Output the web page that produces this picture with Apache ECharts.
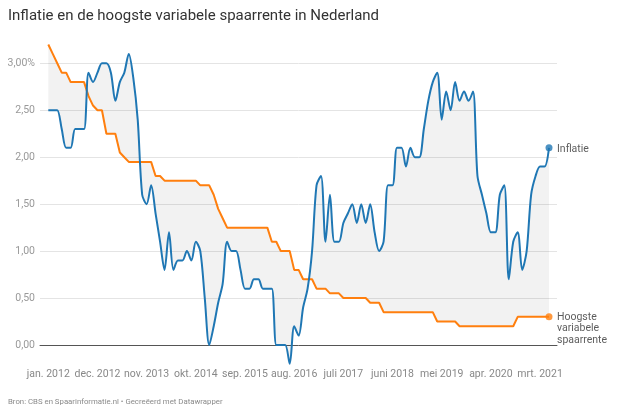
<!DOCTYPE html>
<html>
<head>
<meta charset="utf-8">
<script src="https://cdn.jsdelivr.net/npm/echarts@6/dist/echarts.min.js"></script>
<style>
html,body{margin:0;padding:0;background:#fff;}
#chart{width:619px;height:420px;}
</style>
</head>
<body>
<div id="chart"></div>
<script>
// ---- data (monthly, jan. 2012 – mei 2021) ----
var monthNames = ['jan.','feb.','mrt.','apr.','mei','juni','juli','aug.','sep.','okt.','nov.','dec.'];
var startYear = 2012;

var inflatie = [
  2.5, 2.5, 2.5, 2.3, 2.1, 2.1, 2.3, 2.3, 2.3, 2.9,
  2.8, 2.9, 3.0, 3.0, 2.9, 2.6, 2.8, 2.9, 3.1, 2.85,
  2.4, 1.6, 1.5, 1.7, 1.4, 1.1, 0.8, 1.2, 0.8, 0.9,
  0.9, 1.0, 0.9, 1.1, 1.0, 0.5, 0.0, 0.2, 0.45, 0.65,
  1.1, 1.0, 1.0, 0.8, 0.6, 0.6, 0.7, 0.7, 0.6, 0.6,
  0.6, 0.0, 0.0, 0.0, -0.2, 0.2, 0.1, 0.4, 0.6, 1.0,
  1.7, 1.8, 1.1, 1.6, 1.1, 1.1, 1.3, 1.4, 1.5, 1.3,
  1.5, 1.3, 1.5, 1.2, 1.0, 1.1, 1.7, 1.7, 2.1, 2.1,
  1.9, 2.1, 2.0, 2.0, 2.3, 2.6, 2.8, 2.9, 2.4, 2.7,
  2.5, 2.8, 2.6, 2.7, 2.6, 2.7, 1.8, 1.6, 1.4, 1.2,
  1.2, 1.6, 1.7, 0.7, 1.1, 1.2, 0.8, 1.0, 1.6, 1.8,
  1.9, 1.9, 2.1
];

var spaarrente = [
  3.2, 3.1, 3.0, 2.9, 2.9, 2.8, 2.8, 2.8, 2.8, 2.65,
  2.55, 2.5, 2.5, 2.25, 2.25, 2.25, 2.05, 2.0, 1.95, 1.95,
  1.95, 1.95, 1.95, 1.95, 1.8, 1.8, 1.75, 1.75, 1.75, 1.75,
  1.75, 1.75, 1.75, 1.75, 1.7, 1.7, 1.7, 1.6, 1.45, 1.35,
  1.25, 1.25, 1.25, 1.25, 1.25, 1.25, 1.25, 1.25, 1.25, 1.25,
  1.1, 1.1, 1.0, 1.0, 1.0, 0.8, 0.8, 0.7, 0.7, 0.7,
  0.6, 0.6, 0.6, 0.55, 0.55, 0.55, 0.5, 0.5, 0.5, 0.5,
  0.5, 0.5, 0.45, 0.45, 0.45, 0.35, 0.35, 0.35, 0.35, 0.35,
  0.35, 0.35, 0.35, 0.35, 0.35, 0.35, 0.35, 0.25, 0.25, 0.25,
  0.25, 0.25, 0.2, 0.2, 0.2, 0.2, 0.2, 0.2, 0.2, 0.2,
  0.2, 0.2, 0.2, 0.2, 0.2, 0.3, 0.3, 0.3, 0.3, 0.3,
  0.3, 0.3, 0.3
];

var yTicks = [0, 0.5, 1.0, 1.5, 2.0, 2.5, 3.0];
var seriesNames = ['Inflatie', 'Hoogste\nvariabele\nspaarrente'];
var titleText = 'Inflatie en de hoogste variabele spaarrente in Nederland';
var footerText = 'Bron: CBS en Spaarinformatie.nl \u2022 Gecre\u00eberd met Datawrapper';

// ---- build ----
var categories = inflatie.map(function (_, i) {
  return monthNames[i % 12] + ' ' + (startYear + Math.floor(i / 12));
});
var last = inflatie.length - 1;
var BLUE = '#1f77b4', ORANGE = '#ff7f0e';
var FONT = 'Roboto';

var chart = echarts.init(document.getElementById('chart'), null, {renderer: 'canvas'});
chart.setOption({
  animation: false,
  backgroundColor: '#fff',
  textStyle: {fontFamily: FONT},
  title: [
    {text: titleText, left: 8, top: 9, padding: 0,
     textStyle: {fontFamily: FONT, fontSize: 15, fontWeight: 'normal', color: '#333'}},
    {text: footerText, left: 8, top: 398.5, padding: 0,
     textStyle: {fontFamily: FONT, fontSize: 7.8, fontWeight: 'normal', color: '#8a8a8a'}}
  ],
  grid: [
    {left: 40, right: 62, top: 63.3, bottom: 75},
    {left: 48.3, right: 70, top: 63.3, bottom: 75}
  ],
  xAxis: [
    {gridIndex: 0, type: 'value', min: 0, max: 1, show: true,
     axisLabel: {show: false}, axisTick: {show: false}, splitLine: {show: false},
     axisLine: {show: true, onZero: true, lineStyle: {color: '#555', width: 1}}},
    {gridIndex: 1, type: 'category', data: categories, boundaryGap: false,
     axisLine: {show: false}, axisTick: {show: false}, splitLine: {show: false},
     axisLabel: {interval: 10, color: '#888', fontSize: 10.5, margin: 24, fontFamily: FONT}}
  ],
  yAxis: [
    {gridIndex: 0, type: 'value', min: yTicks[0], max: yTicks[yTicks.length - 1], interval: 0.5,
     axisLine: {show: false}, axisTick: {show: false},
     splitLine: {show: true, lineStyle: {color: '#e4e4e4', width: 1}},
     axisLabel: {color: '#999', fontSize: 10.5, margin: 5, fontFamily: FONT,
       formatter: function (v) {
         var s = v.toFixed(2).replace('.', ',');
         return v === yTicks[yTicks.length - 1] ? s + '%' : s;
       }}},
    {gridIndex: 1, type: 'value', min: yTicks[0], max: yTicks[yTicks.length - 1], show: false,
     splitLine: {show: false}}
  ],
  series: [
    {
      type: 'custom', xAxisIndex: 1, yAxisIndex: 1, clip: false, silent: true, z: 1,
      data: [[0, 0]],
      renderItem: function (params, api) {
        var pts = [];
        for (var i = 0; i < inflatie.length; i++) pts.push(api.coord([i, inflatie[i]]));
        for (var j = spaarrente.length - 1; j >= 0; j--) pts.push(api.coord([j, spaarrente[j]]));
        return {type: 'polygon', shape: {points: pts}, style: {fill: 'rgba(0,0,0,0.05)'}};
      }
    },
    {
      name: seriesNames[0], type: 'line', xAxisIndex: 1, yAxisIndex: 1, z: 3,
      data: inflatie, smooth: 0.3, showSymbol: false, clip: false,
      lineStyle: {color: BLUE, width: 2}, itemStyle: {color: BLUE}
    },
    {
      name: seriesNames[1], type: 'line', xAxisIndex: 1, yAxisIndex: 1, z: 2,
      data: spaarrente, smooth: false, showSymbol: false, clip: false,
      lineStyle: {color: ORANGE, width: 2}, itemStyle: {color: ORANGE}
    },
    {
      type: 'scatter', xAxisIndex: 1, yAxisIndex: 1, z: 4, clip: false,
      symbolSize: 7, itemStyle: {color: BLUE},
      data: [[last, inflatie[last]]],
      label: {show: true, position: 'right', distance: 4.5, formatter: seriesNames[0],
        color: '#333', fontSize: 10.5, offset: [0, 1.5], fontFamily: FONT}
    },
    {
      type: 'scatter', xAxisIndex: 1, yAxisIndex: 1, z: 4, clip: false,
      symbolSize: 7, itemStyle: {color: ORANGE},
      data: [[last, spaarrente[last]]],
      label: {show: true, position: 'right', distance: 4.5, formatter: seriesNames[1],
        color: '#333', fontSize: 10.5, lineHeight: 11.5, offset: [0, 12], fontFamily: FONT}
    }
  ]
});
</script>
</body>
</html>
